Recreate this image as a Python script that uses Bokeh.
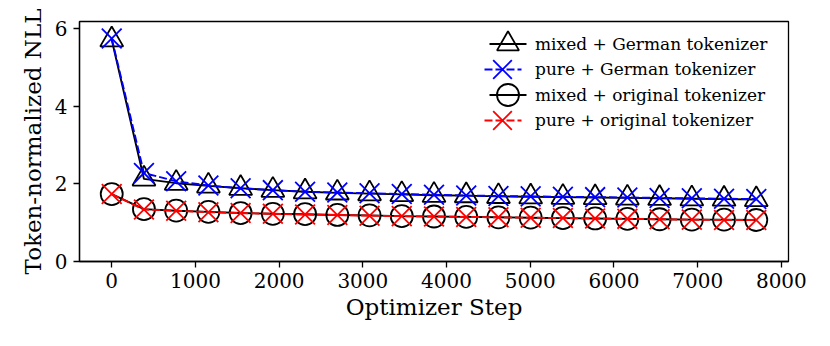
from bokeh.plotting import figure
from bokeh.models import Range1d, SingleIntervalTicker, Legend, LegendItem, ColumnDataSource
from bokeh.embed import file_html
from bokeh.resources import INLINE

steps = [i * 385 for i in range(21)]
mixed_german = [5.72, 2.13, 2.02, 1.95, 1.89, 1.84, 1.80, 1.77, 1.75, 1.73, 1.71,
                1.70, 1.68, 1.67, 1.66, 1.65, 1.64, 1.63, 1.62, 1.61, 1.60]
pure_german = [5.75, 2.28, 2.07, 1.96, 1.89, 1.84, 1.80, 1.78, 1.76, 1.74, 1.72,
               1.70, 1.69, 1.68, 1.67, 1.66, 1.65, 1.64, 1.63, 1.62, 1.61]
mixed_original = [1.74, 1.35, 1.31, 1.28, 1.25, 1.23, 1.22, 1.20, 1.19, 1.17, 1.16,
                  1.15, 1.14, 1.13, 1.12, 1.11, 1.10, 1.09, 1.08, 1.08, 1.07]
pure_original = [1.74, 1.34, 1.31, 1.27, 1.25, 1.23, 1.21, 1.20, 1.18, 1.17, 1.16,
                 1.15, 1.14, 1.13, 1.12, 1.11, 1.10, 1.09, 1.08, 1.07, 1.07]

labels = ["mixed + German tokenizer", "pure + German tokenizer",
          "mixed + original tokenizer", "pure + original tokenizer"]
series = [mixed_german, pure_german, mixed_original, pure_original]
colors = ["black", "#0000ff", "black", "#ff0000"]
markers = ["triangle", "x", "circle", "x"]
dashes = ["solid", "8 3", "solid", "8 3"]
sizes = [23, 28, 22, 28]

FONT = "DejaVu Serif"
NAN = float("nan")

p = figure(width=830, height=346, output_backend="svg", toolbar_location=None,
           x_range=Range1d(-385, 8085), y_range=Range1d(0, 6.19),
           min_border_left=79, min_border_right=42, min_border_top=21,
           min_border_bottom=85)
p.xgrid.visible = False
p.ygrid.visible = False
p.outline_line_color = "black"
p.outline_line_width = 1.3
p.background_fill_color = "white"
p.border_fill_color = "white"

# legend key geometry (screen px); marker size in a key = 0.4 * box
KEY_LINE = 37                       # visible length of the key line
key_boxes = [55, 66, 55, 66]
legend_dashes = ["%d %d" % (KEY_LINE, 300),
                 "8 3 8 3 8 3 4 300",
                 "%d %d" % (KEY_LINE, 300),
                 "8 3 8 3 8 3 4 300"]
row_centers = [22.5, 48, 73.5, 99]   # px below the frame top
LABEL_X = 456                         # label start, px right of the frame left
FRAME_H = 240

for i, (lab, ys, c, m, d, s) in enumerate(zip(labels, series, colors, markers, dashes, sizes)):
    src = ColumnDataSource(dict(x=steps, y=ys))
    p.line("x", "y", source=src, line_color=c, line_width=1.9, line_dash=d)
    p.scatter("x", "y", source=src, marker=m, size=s, line_color=c,
              line_width=1.8, fill_color=None)

    # legend-only proxies (no visible data), to control the key's look
    proxy = ColumnDataSource(dict(x=[NAN], y=[NAN]))
    box = key_boxes[i]
    pad = (box - KEY_LINE) / 2
    ld = legend_dashes[i]
    period = sum(int(v) for v in ld.split())
    kl = p.line("x", "y", source=proxy, line_color=c, line_width=1.9,
                line_dash=ld, line_dash_offset=int(round(period - pad)))
    km = p.scatter("x", "y", source=proxy, marker=m, line_color=c,
                   line_width=1.8, fill_color=None)
    loc = (LABEL_X - box, int(round(FRAME_H - row_centers[i] - box / 2)))
    leg = Legend(items=[LegendItem(label=lab, renderers=[kl, km])],
                 location=loc, border_line_color=None,
                 background_fill_alpha=0, padding=0, margin=0,
                 glyph_width=box, glyph_height=box, spacing=0,
                 label_standoff=0,
                 label_text_font=FONT,
                 label_text_font_size="17px", label_text_color="black")
    p.add_layout(leg, "center")

for ax in (p.xaxis, p.yaxis):
    ax.axis_line_color = "black"
    ax.axis_line_width = 1.3
    ax.major_tick_line_color = "black"
    ax.major_tick_line_width = 1.3
    ax.major_tick_out = 6
    ax.major_tick_in = 0
    ax.minor_tick_line_color = None
    ax.major_label_text_font = FONT
    ax.major_label_text_font_size = "20px"
    ax.major_label_text_color = "black"
    ax.axis_label_text_font = FONT
    ax.axis_label_text_font_size = "23px"
    ax.axis_label_text_font_style = "normal"
    ax.axis_label_text_color = "black"

p.xaxis.ticker = SingleIntervalTicker(interval=1000, num_minor_ticks=0)
p.yaxis.ticker = SingleIntervalTicker(interval=2, num_minor_ticks=0)
p.xaxis.axis_label = "Optimizer Step"
p.yaxis.axis_label = "Token-normalized NLL"
p.xaxis.major_label_standoff = 5
p.yaxis.major_label_standoff = 6
p.xaxis.axis_label_standoff = 3
p.yaxis.axis_label_standoff = 6

open("out.html", "w").write(file_html(p, INLINE))
